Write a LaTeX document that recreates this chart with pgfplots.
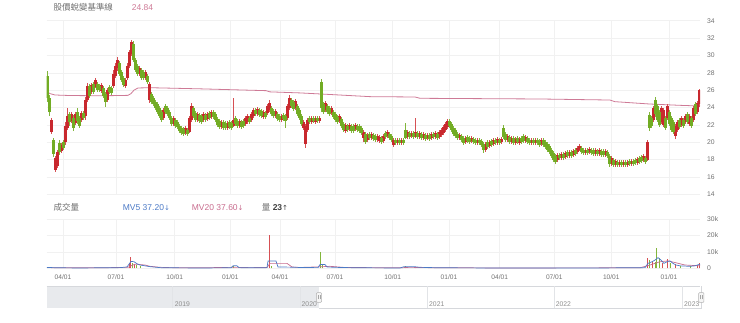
\documentclass[border=0pt]{standalone}
\usepackage{pgfplots}
\pgfplotsset{compat=1.18}
\usepackage{pgfplotstable}
\usepackage{fontspec}
\setmainfont{Liberation Sans}
\newfontfamily\cjk{Noto Sans CJK TC}
\newfontfamily\dejavu{DejaVu Sans}
\definecolor{upc}{RGB}{200,40,46}
\definecolor{dnc}{RGB}{114,172,36}
\definecolor{upw}{RGB}{214,80,84}
\definecolor{dnw}{RGB}{130,182,60}
\definecolor{basec}{RGB}{206,122,150}
\definecolor{mvfive}{RGB}{76,122,198}
\definecolor{mvtwenty}{RGB}{200,108,142}
\definecolor{gridc}{RGB}{241,241,241}
\definecolor{labc}{RGB}{112,112,112}
\definecolor{navfill}{RGB}{232,234,237}
\definecolor{navline}{RGB}{214,216,220}

% up candles (close >= open): x open high low close
\pgfplotstableread{
x o h l c
51.5 21.18 22.79 20.95 22.56
55.5 16.80 18.41 16.57 18.18
57.5 17.26 19.11 17.03 18.88
61.5 18.99 19.91 18.76 19.68
65.5 20.03 22.33 19.68 21.87
67.5 21.64 23.94 21.41 23.02
71.5 22.45 23.48 22.22 23.25
75.5 22.22 23.48 21.99 23.25
81.5 22.56 23.60 22.33 23.37
85.5 23.02 25.21 22.56 24.86
87.5 24.86 26.82 24.63 26.48
91.5 25.79 26.82 25.56 26.59
95.5 26.36 27.40 26.25 27.17
101.5 25.90 26.82 25.67 26.59
107.5 24.86 26.25 24.63 26.02
113.5 26.48 28.32 26.25 27.86
115.5 27.63 29.13 27.40 28.78
117.5 28.55 29.82 28.21 29.47
125.5 26.48 27.40 26.25 27.17
127.5 27.40 29.13 27.17 28.78
129.5 28.78 30.63 28.55 30.40
131.5 30.16 31.78 29.93 31.55
139.5 27.86 28.78 27.63 28.55
145.5 27.40 28.32 27.17 28.09
149.5 24.86 26.94 24.52 26.71
163.5 22.79 23.94 22.56 23.71
173.5 22.10 23.02 21.87 22.79
185.5 21.06 21.87 20.83 21.64
189.5 21.18 23.02 21.06 22.79
191.5 22.56 24.52 22.33 24.17
197.5 22.56 23.48 22.33 23.25
203.5 22.56 23.48 22.33 23.25
207.5 22.68 23.48 22.45 23.25
211.5 22.91 23.71 22.68 23.48
221.5 21.75 22.56 21.52 22.33
227.5 21.64 22.45 21.41 22.22
233.5 21.87 25.10 21.75 22.56
239.5 21.87 22.68 21.64 22.45
245.5 22.10 23.02 21.87 22.79
247.5 22.33 23.25 22.10 23.02
251.5 22.56 23.48 22.33 23.25
253.5 23.02 23.94 22.79 23.71
257.5 23.25 24.06 23.02 23.83
263.5 22.91 23.71 22.68 23.48
267.5 23.37 24.40 23.14 24.17
269.5 23.71 24.86 23.48 24.52
275.5 23.02 23.83 22.79 23.60
281.5 22.56 23.25 22.33 23.02
287.5 22.79 24.40 22.56 24.17
289.5 23.94 25.44 23.71 25.10
295.5 23.94 24.98 23.71 24.75
303.5 21.64 22.56 21.41 22.33
305.5 19.80 22.10 19.34 21.87
307.5 21.41 22.79 21.18 22.56
311.5 22.33 23.02 22.10 22.79
315.5 22.33 23.02 22.10 22.79
319.5 22.45 23.02 22.22 22.79
325.5 23.71 24.75 23.48 24.52
331.5 23.37 24.17 23.14 23.94
339.5 22.45 23.25 22.22 23.02
345.5 21.29 22.22 21.06 21.99
349.5 21.52 22.22 21.29 21.99
355.5 21.52 22.22 21.29 21.99
363.5 20.49 21.41 20.03 21.18
367.5 20.26 21.06 20.03 20.83
371.5 20.49 21.18 20.26 20.95
377.5 20.26 20.95 20.03 20.72
379.5 20.14 20.83 19.91 20.60
383.5 20.14 20.95 19.91 20.72
387.5 20.72 21.41 20.49 21.18
393.5 19.68 20.49 19.45 20.26
397.5 19.91 20.49 19.68 20.26
401.5 19.91 20.49 19.68 20.26
407.5 20.60 21.41 20.37 21.18
411.5 20.72 21.29 20.49 21.06
415.5 20.60 22.79 20.49 21.18
419.5 20.60 21.29 20.37 21.06
423.5 20.49 21.18 20.26 20.95
427.5 20.49 21.06 20.26 20.83
431.5 20.49 21.18 20.26 20.95
435.5 20.60 21.29 20.37 21.06
439.5 20.60 21.41 20.37 21.18
441.5 20.83 21.64 20.60 21.41
443.5 21.06 21.99 20.83 21.75
445.5 21.41 22.33 21.18 22.10
447.5 21.75 22.68 21.52 22.45
459.5 20.49 21.06 20.26 20.83
465.5 20.03 20.72 19.80 20.49
471.5 20.14 20.72 19.91 20.49
477.5 19.91 20.49 19.68 20.26
485.5 19.11 20.03 18.88 19.80
489.5 19.57 20.26 19.34 20.03
493.5 19.80 20.49 19.57 20.26
497.5 19.91 20.60 19.68 20.37
501.5 20.03 20.60 19.80 20.37
507.5 20.26 20.95 20.03 20.72
511.5 20.03 20.72 19.80 20.49
515.5 19.91 20.60 19.68 20.37
519.5 19.91 20.60 19.68 20.37
525.5 20.14 20.83 19.91 20.60
531.5 19.91 20.49 19.68 20.26
535.5 19.91 20.49 19.68 20.26
541.5 19.80 20.49 19.57 20.26
557.5 17.95 18.76 17.72 18.53
561.5 18.18 18.88 17.95 18.64
565.5 18.30 18.99 18.07 18.76
569.5 18.41 19.11 18.18 18.88
573.5 18.53 19.22 18.30 18.99
577.5 18.88 19.57 18.64 19.34
579.5 19.11 19.80 18.99 19.57
585.5 18.76 19.34 18.53 19.11
589.5 18.88 19.45 18.64 19.22
595.5 18.64 19.34 18.41 19.11
599.5 18.64 19.34 18.41 19.11
605.5 18.53 19.22 18.30 18.99
611.5 17.49 18.41 17.26 18.18
615.5 17.38 18.07 17.15 17.84
619.5 17.38 17.95 17.15 17.72
623.5 17.38 17.95 17.15 17.72
627.5 17.38 17.95 17.15 17.72
631.5 17.49 18.07 17.26 17.84
637.5 17.61 18.30 17.38 18.07
643.5 17.95 18.64 17.72 18.41
647.5 17.95 20.26 17.84 20.03
653.5 22.56 24.17 22.33 23.94
661.5 22.33 24.17 22.10 23.94
663.5 21.99 23.94 21.75 23.71
667.5 22.79 24.40 22.56 24.17
675.5 20.72 22.10 20.37 21.87
677.5 21.41 22.56 21.18 22.33
681.5 21.99 23.02 21.75 22.79
685.5 22.33 23.25 22.10 23.02
689.5 22.10 23.25 21.87 23.02
693.5 22.56 24.17 22.33 23.94
697.5 23.48 24.75 23.25 24.52
699.5 24.40 26.13 24.06 26.02
}\candlesup

% down candles (close < open)
\pgfplotstableread{
x o h l c
47.5 27.63 28.21 24.63 25.10
49.5 25.10 25.44 23.02 23.48
53.5 20.26 20.49 18.30 18.64
59.5 19.91 20.26 18.53 18.88
63.5 20.03 20.26 19.11 19.34
69.5 23.25 23.48 21.87 22.33
73.5 22.79 23.14 21.29 21.64
77.5 23.48 23.94 22.10 22.45
79.5 22.79 23.02 21.64 21.87
83.5 23.37 23.60 22.56 22.79
89.5 26.48 26.71 25.10 25.33
93.5 26.71 26.94 25.56 25.79
97.5 26.71 26.94 25.79 26.02
99.5 26.48 26.71 25.79 26.02
103.5 26.25 26.48 25.10 25.33
105.5 25.56 25.79 24.06 24.63
109.5 26.36 26.59 25.56 25.79
111.5 26.25 26.48 25.44 25.67
119.5 29.13 29.36 27.63 27.86
121.5 28.09 28.32 26.94 27.17
123.5 27.40 27.63 26.36 26.59
133.5 31.32 31.66 29.24 29.47
135.5 29.47 29.70 28.09 28.32
137.5 28.78 29.01 27.63 27.86
141.5 28.32 28.55 27.17 27.40
143.5 28.09 28.32 27.17 27.40
147.5 27.63 27.86 26.71 26.94
151.5 25.56 25.79 24.40 24.63
153.5 25.10 25.33 24.17 24.40
155.5 24.63 24.86 23.71 23.94
157.5 24.40 24.63 23.25 23.48
159.5 23.94 24.17 22.79 23.02
161.5 23.48 23.71 22.33 22.56
165.5 24.17 24.40 23.25 23.48
167.5 23.94 24.17 23.02 23.25
169.5 23.48 23.71 22.56 22.79
171.5 22.79 23.02 21.87 22.10
175.5 22.56 22.79 21.64 21.87
177.5 22.33 22.56 21.52 21.75
179.5 21.87 22.10 21.06 21.29
181.5 21.64 21.87 20.83 21.06
183.5 21.52 21.75 20.72 20.95
187.5 21.41 21.64 20.72 20.95
193.5 23.94 24.17 22.79 23.02
195.5 23.37 23.60 22.33 22.56
199.5 23.14 23.37 22.22 22.45
201.5 23.02 23.25 22.10 22.33
205.5 23.14 23.37 22.33 22.56
209.5 23.37 23.60 22.56 22.79
213.5 23.48 23.71 22.68 22.91
215.5 23.25 23.48 22.33 22.56
217.5 22.68 22.91 21.75 21.99
219.5 22.45 22.68 21.52 21.75
223.5 22.33 22.56 21.41 21.64
225.5 22.22 22.45 21.41 21.64
229.5 22.33 22.56 21.52 21.75
231.5 22.22 22.45 21.41 21.64
235.5 22.79 23.02 21.87 22.10
237.5 22.45 22.68 21.64 21.87
241.5 22.33 22.56 21.52 21.75
243.5 22.45 22.68 21.64 21.87
249.5 22.79 23.02 22.10 22.33
255.5 23.71 23.94 23.02 23.25
259.5 23.71 23.94 22.91 23.14
261.5 23.60 23.83 22.79 23.02
265.5 23.37 23.60 22.68 22.91
271.5 23.94 24.17 23.02 23.25
273.5 23.60 23.83 22.79 23.02
277.5 23.25 23.48 22.45 22.68
279.5 23.02 23.25 22.33 22.56
283.5 23.14 23.37 22.45 22.68
285.5 23.02 23.25 21.64 22.45
291.5 24.86 25.10 23.94 24.17
293.5 24.63 24.86 23.60 23.83
297.5 24.17 24.40 23.02 23.25
299.5 23.71 23.94 22.56 22.79
301.5 23.02 23.25 21.87 22.10
309.5 22.79 23.02 22.10 22.33
313.5 22.79 23.02 22.22 22.45
317.5 22.79 23.02 22.22 22.45
321.5 26.94 27.28 23.48 23.94
323.5 24.40 24.63 23.25 23.48
327.5 24.17 24.40 23.25 23.48
329.5 23.94 24.17 23.02 23.25
333.5 23.48 23.71 22.68 22.91
335.5 23.25 23.48 22.33 22.56
337.5 22.91 23.14 22.10 22.33
341.5 22.68 22.91 21.64 21.87
343.5 22.10 22.33 21.18 21.41
347.5 21.87 22.10 21.18 21.41
351.5 21.87 22.10 21.06 21.29
353.5 21.87 22.10 21.06 21.29
357.5 21.87 22.10 21.18 21.41
359.5 21.87 22.10 21.06 21.29
361.5 21.64 21.87 20.83 21.06
365.5 20.95 21.18 19.80 20.03
369.5 20.95 21.18 20.26 20.49
373.5 20.83 21.06 20.14 20.37
375.5 20.72 20.95 20.03 20.26
381.5 20.49 20.72 19.80 20.03
385.5 21.06 21.29 20.37 20.60
389.5 20.95 21.18 20.26 20.49
391.5 20.72 20.95 20.03 20.26
395.5 20.26 20.49 19.68 19.91
399.5 20.26 20.49 19.68 19.91
403.5 20.26 20.49 19.68 19.91
405.5 21.41 22.22 20.37 20.49
409.5 21.06 21.29 20.37 20.60
413.5 21.06 21.29 20.37 20.60
417.5 21.06 21.29 20.37 20.60
421.5 20.95 21.18 20.26 20.49
425.5 20.83 21.06 20.14 20.37
429.5 20.83 21.06 20.14 20.37
433.5 20.95 21.18 20.37 20.60
437.5 20.95 21.18 20.26 20.49
449.5 22.45 22.68 21.64 21.87
451.5 22.10 22.33 21.18 21.41
453.5 21.64 21.87 20.72 20.95
455.5 21.41 21.64 20.49 20.72
457.5 20.95 21.18 20.26 20.49
461.5 20.72 20.95 20.03 20.26
463.5 20.49 20.72 19.68 19.91
467.5 20.60 20.83 19.91 20.14
469.5 20.49 20.72 19.80 20.03
473.5 20.37 20.60 19.80 20.03
475.5 20.26 20.49 19.68 19.91
479.5 20.26 20.49 19.68 19.91
481.5 20.14 20.37 19.45 19.68
483.5 19.80 20.03 18.76 19.11
487.5 20.03 20.26 19.22 19.45
491.5 20.14 20.37 19.45 19.68
495.5 20.26 20.49 19.68 19.91
499.5 20.26 20.49 19.68 19.91
503.5 21.64 21.99 20.37 20.60
505.5 20.95 21.18 20.03 20.26
509.5 20.60 20.83 19.80 20.03
513.5 20.49 20.72 19.68 19.91
517.5 20.49 20.72 19.80 20.03
521.5 20.49 20.72 19.80 20.03
523.5 20.72 20.95 19.91 20.14
527.5 20.49 20.72 19.80 20.03
529.5 20.26 20.49 19.68 19.91
533.5 20.26 20.49 19.68 19.91
537.5 20.26 20.49 19.68 19.91
539.5 20.14 20.37 19.45 19.68
543.5 20.26 20.49 19.45 19.68
545.5 20.03 20.26 19.22 19.45
547.5 19.80 20.03 18.88 19.11
549.5 19.57 19.80 18.64 18.88
551.5 19.11 19.34 18.18 18.41
553.5 18.76 18.99 17.72 17.95
555.5 18.41 18.64 17.49 17.72
559.5 18.53 18.76 17.95 18.18
563.5 18.64 18.88 17.95 18.18
567.5 18.88 19.11 18.18 18.41
571.5 18.88 19.11 18.18 18.41
575.5 19.11 19.34 18.41 18.64
581.5 19.34 19.57 18.64 18.88
583.5 19.11 19.34 18.53 18.76
587.5 19.11 19.34 18.53 18.76
591.5 19.11 19.34 18.53 18.76
593.5 19.11 19.34 18.41 18.64
597.5 18.99 19.22 18.41 18.64
601.5 18.99 19.22 18.30 18.53
603.5 18.99 19.22 18.30 18.53
607.5 18.88 19.11 18.18 18.41
609.5 18.41 18.64 17.15 17.49
613.5 17.95 18.18 17.15 17.38
617.5 17.72 17.95 17.15 17.38
621.5 17.72 17.95 17.15 17.38
625.5 17.72 17.95 17.15 17.38
629.5 17.84 18.07 17.26 17.49
633.5 17.84 18.07 17.26 17.49
635.5 17.95 18.18 17.38 17.61
639.5 18.18 18.41 17.49 17.72
641.5 18.30 18.53 17.61 17.84
645.5 18.18 18.41 17.49 17.72
649.5 23.14 23.48 21.29 21.64
651.5 22.79 23.02 21.64 21.87
655.5 24.86 25.21 22.91 23.25
657.5 24.17 24.40 22.33 22.56
659.5 23.48 23.71 21.75 21.99
665.5 22.79 23.02 21.41 21.64
669.5 23.48 23.71 21.87 22.10
671.5 22.79 23.02 21.18 21.41
673.5 22.33 22.56 20.95 21.18
679.5 22.56 22.79 21.52 21.75
683.5 22.56 22.79 21.64 21.87
687.5 23.25 23.48 22.10 22.33
691.5 22.79 23.02 21.64 21.87
695.5 24.40 24.63 23.02 23.25
}\candlesdn

\pgfplotstableread{
x base
47.3 25.79
50 25.60
55 25.44
70 25.38
100 25.35
120 25.38
128 25.40
131 25.60
134 26.00
138 26.25
150 26.28
200 26.15
266 25.94
270 25.80
300 25.68
320 25.56
370 25.25
415 25.21
420 25.06
540 24.98
610 24.86
615 24.67
650 24.40
680 24.25
700 24.17
}\baseline

\pgfplotstableread{
x v
129.5 3000
130.5 6700
134.5 2500
269.5 20300
415.5 1000
647.5 6000
652.5 4500
662.5 3000
667.5 5500
675.5 2500
697.5 2000
699.5 3000
}\volup

\pgfplotstableread{
x v
132.5 3500
136.5 1800
140.5 1200
233.5 1500
271.5 1500
320.5 9700
322.5 2000
405.5 1200
649.5 5000
655.5 4000
656.5 12200
659.5 6000
670.5 3000
680.5 1500
690.5 1200
}\voldn

\pgfplotstableread{
x v
47 500
60 300
80 200
100 300
120 400
127 800
129 2500
131 4200
134 4000
137 2800
140 2000
145 1500
150 1000
160 400
170 300
200 200
231 300
233 1500
237 1500
239 400
260 300
267 400
268 4400
276 4400
278 800
290 700
300 500
318 400
320 2300
325 2300
327 800
340 500
360 300
400 200
404 1000
410 900
414 1000
420 600
440 300
500 200
600 200
645 400
648 3000
652 4000
655 5000
658 6500
661 5000
664 3000
667 4000
670 4500
673 3000
676 2000
680 1500
690 1200
695 1500
700 2500
}\mvfivetab

\pgfplotstableread{
x v
47 400
100 300
128 600
131 1500
135 2500
145 2000
150 1200
160 600
170 400
200 300
234 600
250 400
267 500
270 3000
287 3000
292 800
300 500
320 900
330 1200
345 500
400 300
410 600
425 400
500 200
640 300
650 2000
660 4000
668 4500
675 3500
685 2000
700 1500
}\mvtwentytab

\begin{document}
\begin{tikzpicture}[x=1pt,y=1pt]
\useasboundingbox (0,0) rectangle (740,323);

% titles
\node[anchor=base west, inner sep=0pt, text=labc, font=\cjk\fontsize{8.5}{10}\selectfont] at (53.3,312.7) {股價蛻變基準線};
\node[anchor=base west, inner sep=0pt, text=basec, font=\fontsize{8.5}{10}\selectfont] at (131.7,312.7) {24.84};

\node[anchor=base west, inner sep=0pt, text=labc, font=\cjk\fontsize{8.5}{10}\selectfont] at (53.5,112.5) {成交量};
\node[anchor=base west, inner sep=0pt, text=mvfive, font=\fontsize{8.5}{10}\selectfont] at (122.7,112.5) {MV5 37.20{\dejavu\fontsize{7}{8}\selectfont ↓}};
\node[anchor=base west, inner sep=0pt, text=mvtwenty, font=\fontsize{8.5}{10}\selectfont] at (191.7,112.5) {MV20 37.60{\dejavu\fontsize{7}{8}\selectfont ↓}};
\node[anchor=base west, inner sep=0pt, text=labc, font=\fontsize{8.5}{10}\selectfont] at (261.7,112.5) {{\cjk 量} \textcolor{black!75}{\textbf{23}{\dejavu\fontsize{7}{8}\selectfont ↑}}};

% price panel
\begin{axis}[
  at={(46.7pt,128.7pt)}, anchor=south west, scale only axis,
  width=653.3pt, height=173.6pt,
  xmin=46.7, xmax=700, ymin=14, ymax=34,
  axis line style={draw=none}, tick style={draw=none},
  xtick={63,116,174.7,230.3,280,335,392.7,449,499.7,554.3,611.3,669},
  xticklabel=\empty,
  ytick={14,16,...,34},
  yticklabel pos=right,
  yticklabel style={anchor=west, inner sep=0pt, xshift=7pt, text=labc, font=\fontsize{6.8}{8}\selectfont},
  /pgf/number format/assume math mode=true,
  grid=major, major grid style={draw=gridc, line width=0.5pt},
]
\addplot[basec, line width=0.8pt, mark=none] table[x=x, y=base] {\baseline};
% wicks
\addplot[upw, mark=none, quiver={u=0, v=\thisrow{h}-\thisrow{l},
    every arrow/.append style={draw=upw, line width=0.8pt}}]
  table[x=x, y=l] {\candlesup};
\addplot[dnw, mark=none, quiver={u=0, v=\thisrow{h}-\thisrow{l},
    every arrow/.append style={draw=dnw, line width=0.8pt}}]
  table[x=x, y=l] {\candlesdn};
% bodies
\addplot[upc, mark=none, quiver={u=0, v=\thisrow{c}-\thisrow{o},
    every arrow/.append style={draw=upc, line width=2.1pt}}]
  table[x=x, y=o] {\candlesup};
\addplot[dnc, mark=none, quiver={u=0, v=\thisrow{o}-\thisrow{c},
    every arrow/.append style={draw=dnc, line width=2.1pt}}]
  table[x=x, y=c] {\candlesdn};
\end{axis}

% volume panel
\begin{axis}[
  at={(46.7pt,54.7pt)}, anchor=south west, scale only axis,
  width=653.3pt, height=49.3pt,
  xmin=46.7, xmax=700, ymin=0, ymax=30000,
  axis line style={draw=none}, tick style={draw=none},
  xtick={63,116,174.7,230.3,280,335,392.7,449,499.7,554.3,611.3,669},
  xticklabels={04/01,07/01,10/01,01/01,04/01,07/01,10/01,01/01,04/01,07/01,10/01,01/01},
  xticklabel style={anchor=center, yshift=-8.7pt, text=labc, font=\fontsize{6.6}{8}\selectfont},
  ytick={0,10000,20000,30000},
  yticklabels={0,10k,20k,30k},
  scaled y ticks=false,
  yticklabel pos=right,
  yticklabel style={anchor=west, inner sep=0pt, xshift=7pt, text=labc, font=\fontsize{6.8}{8}\selectfont},
  grid=major, major grid style={draw=gridc, line width=0.5pt},
]
\addplot[ycomb, draw=upw, line width=0.8pt, mark=none] table[x=x, y=v] {\volup};
\addplot[ycomb, draw=dnw, line width=0.8pt, mark=none] table[x=x, y=v] {\voldn};
\addplot[mvtwenty, line width=0.7pt, mark=none] table[x=x, y=v] {\mvtwentytab};
\addplot[mvfive, line width=0.7pt, mark=none] table[x=x, y=v] {\mvfivetab};
\end{axis}

% navigator
\fill[navfill] (46.7,14.5) rectangle (319,37);
\draw[navline, line width=0.6pt] (46.7,37) -- (700,37);
\draw[navline, line width=0.6pt] (319,14.2) -- (701,14.2) -- (701,37);
\foreach \xx in {172.7,300,427.3,554.3,682.7} {\draw[navline!70, line width=0.5pt] (\xx,14.5) -- (\xx,37);}
\foreach \xx/\yy in {174.7/2019,301.5/2020,429/2021,555.7/2022,684/2023}
  {\node[anchor=base west, inner sep=0pt, text=labc!80, font=\fontsize{6.8}{8}\selectfont] at (\xx,16.5) {\yy};}
\foreach \xx in {319,701.3} {
  \draw[gray!60, fill=gray!8, line width=0.5pt, rounded corners=0.8pt] (\xx-2.6,20.7) rectangle (\xx+2.6,30.3);
  \draw[gray!70, line width=0.4pt] (\xx-0.8,23.5) -- (\xx-0.8,27.5) (\xx+0.8,23.5) -- (\xx+0.8,27.5);
}
\end{tikzpicture}
\end{document}
